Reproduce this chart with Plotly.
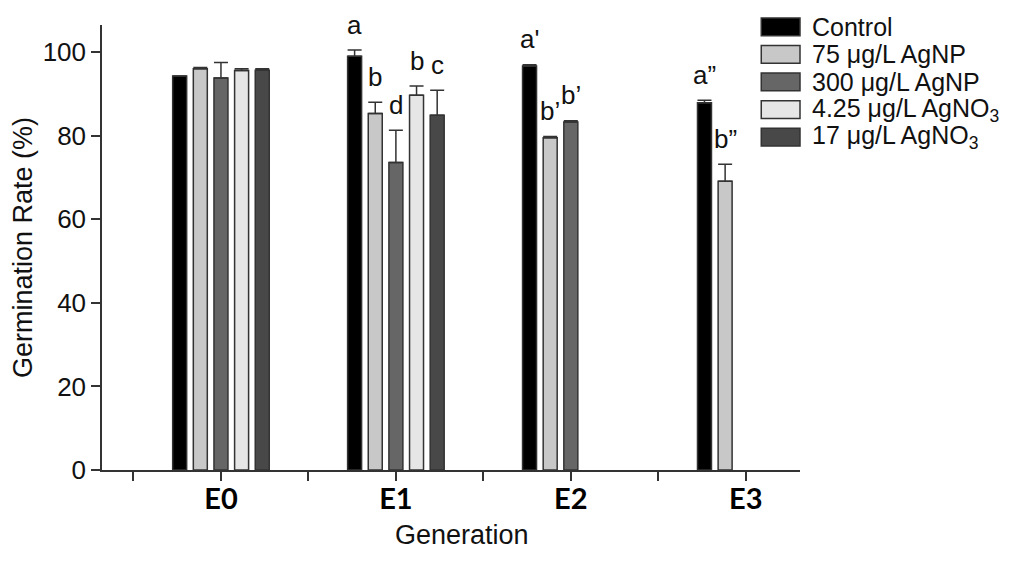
import plotly.graph_objects as go

# Generations on the x axis
generations = ['E0', 'E1', 'E2', 'E3']

# Germination rate (%) per treatment, None where no bar was drawn
series_names = ['Control', '75 μg/L AgNP', '300 μg/L AgNP',
                '4.25 μg/L AgNO<sub>3</sub>', '17 μg/L AgNO<sub>3</sub>']
control = [94.3, 99.0, 96.7, 87.9]
agnp_75 = [96.0, 85.3, 79.5, 69.1]
agnp_300 = [93.8, 73.6, 83.3, None]
agno3_425 = [95.6, 89.7, None, None]
agno3_17 = [95.7, 84.9, None, None]

# upper error bars
control_err = [0.0, 1.5, 0.3, 0.6]
agnp_75_err = [0.3, 2.7, 0.3, 4.1]
agnp_300_err = [3.7, 7.7, 0.3, 0]
agno3_425_err = [0.4, 2.2, 0, 0]
agno3_17_err = [0.3, 6.0, 0, 0]

# significance letters above bars
control_letters = ['', 'a', "a'", 'a”']
agnp_75_letters = ['', 'b', 'b’', 'b”']
agnp_300_letters = ['', 'd', 'b’', '']
agno3_425_letters = ['', 'b', '', '']
agno3_17_letters = ['', 'c', '', '']

values = [control, agnp_75, agnp_300, agno3_425, agno3_17]
errors = [control_err, agnp_75_err, agnp_300_err, agno3_425_err, agno3_17_err]
letters = [control_letters, agnp_75_letters, agnp_300_letters,
           agno3_425_letters, agno3_17_letters]
colors = ['#000000', '#c8c8c8', '#666666', '#e6e6e6', '#484848']

x_pos = list(range(len(generations)))
slot = 0.118
bar_w = 0.08

fig = go.Figure()
for j, (name, vals, errs, col) in enumerate(zip(series_names, values, errors, colors)):
    fig.add_trace(go.Bar(
        x=x_pos, y=vals, name=name,
        width=bar_w, offset=(j - 2) * slot - bar_w / 2,
        marker=dict(color=col, line=dict(color='#333333', width=1.5)),
        error_y=dict(type='data', array=errs, arrayminus=[0] * len(errs),
                     symmetric=False, color='#333333', thickness=1.5, width=7),
        showlegend=False,
    ))

# letters
annotations = []
for j in range(len(values)):
    for i in x_pos:
        if letters[j][i] and values[j][i] is not None:
            annotations.append(dict(
                x=i + (j - 2) * slot, y=values[j][i] + errors[j][i] + 2,
                xref='x', yref='y', text=letters[j][i], showarrow=False,
                xanchor='center', yanchor='bottom',
                font=dict(family='Liberation Sans, Arial', size=26, color='#111111')))

# legend drawn by hand, to get wide swatches
shapes = []
for j, (name, col) in enumerate(zip(series_names, colors)):
    yc = 0.996 - j * 0.062
    shapes.append(dict(type='rect', xref='paper', yref='paper',
                       x0=0.9445, x1=1.0, y0=yc - 0.02, y1=yc + 0.02,
                       fillcolor=col, line=dict(color='#333333', width=1.5)))
    annotations.append(dict(x=1.014, y=yc, xref='paper', yref='paper', text=name,
                            showarrow=False, xanchor='left', yanchor='middle',
                            font=dict(family='Liberation Sans, Arial', size=25,
                                      color='#111111')))

# x axis title sits a bit right of the plot centre in the original
annotations.append(dict(x=0.516, y=-0.145, xref='paper', yref='paper',
                        text='Generation', showarrow=False,
                        xanchor='center', yanchor='middle',
                        font=dict(family='Liberation Sans, Arial', size=27,
                                  color='#111111')))

tickvals = []
ticktext = []
for i, g in enumerate(generations):
    tickvals += [i - 0.5, i]
    ticktext += ['', g]

# the page adds an 8px body margin, so margins are shifted by that much
fig.update_layout(
    width=1024, height=563,
    margin=dict(l=89, r=232, t=17, b=101),
    plot_bgcolor='white', paper_bgcolor='white',
    barmode='overlay',
    shapes=shapes, annotations=annotations,
    xaxis=dict(range=[-0.68, 3.31], tickvals=tickvals, ticktext=ticktext,
               showline=True, linecolor='#333333', linewidth=1.5,
               ticks='outside', ticklen=9, tickwidth=1.5, tickcolor='#333333',
               showgrid=False, zeroline=False, ticklabelstandoff=-7,
               tickfont=dict(family='Lato', size=29, color='#000000', weight='bold')),
    yaxis=dict(range=[0, 106.5], tickvals=[0, 20, 40, 60, 80, 100],
               showline=True, linecolor='#333333', linewidth=1.5,
               ticks='outside', ticklen=9, tickwidth=1.5, tickcolor='#333333',
               showgrid=False, zeroline=False,
               tickfont=dict(family='Liberation Sans, Arial', size=26, color='#111111'),
               title=dict(text='Germination Rate (%)', standoff=4,
                          font=dict(family='Liberation Sans, Arial', size=27,
                                    color='#111111'))),
)

fig.write_html('out.html')
